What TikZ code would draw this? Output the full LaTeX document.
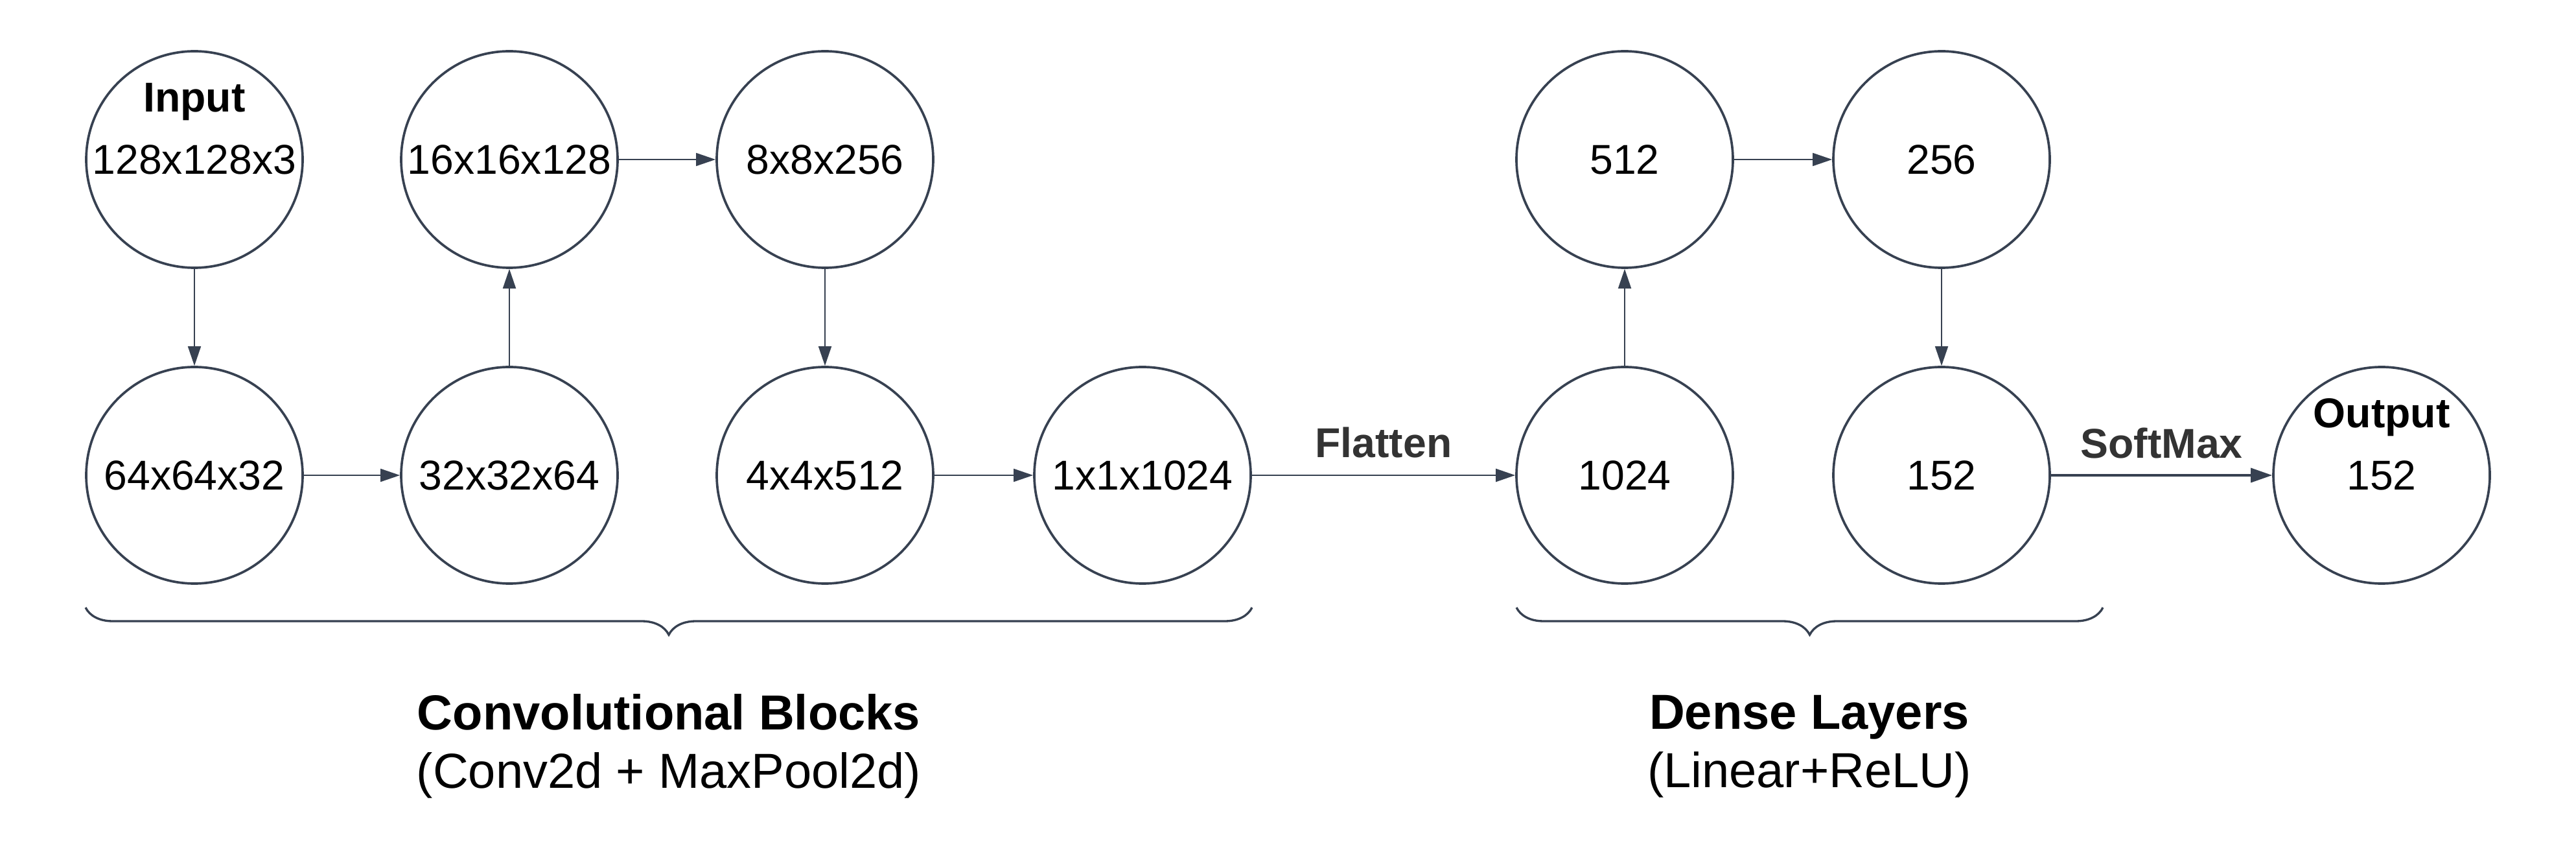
\documentclass[tikz,border=0pt]{standalone}
\usepackage{fontspec}
\setmainfont{Liberation Sans}
\usetikzlibrary{arrows.meta,decorations.pathreplacing,positioning}
\definecolor{linegray}{HTML}{374151}
\definecolor{labelgray}{HTML}{333333}
\tikzset{
    layer/.style={circle, draw=linegray, line width=1.05pt, minimum size=3.34cm, inner sep=0pt, font=\fontsize{18.3}{22}\selectfont},
    conn/.style={color=linegray, line width=0.5pt, -{Triangle[length=0.3cm,width=0.2cm]}},
    headlbl/.style={anchor=base, inner sep=0pt, font=\fontsize{18.3}{22}\selectfont\bfseries},
    edgelbl/.style={inner sep=0pt, text=labelgray, font=\fontsize{18.3}{22}\selectfont\bfseries},
    grpbrace/.style={draw=linegray, line width=0.95pt, decorate, decoration={brace, mirror, amplitude=0.42cm}},
    grptxt/.style={align=center, font=\fontsize{21.6}{25.5}\selectfont}
}

\begin{document}
\begin{tikzpicture}
    \useasboundingbox (0,0) rectangle (39.75,13.13);

    % convolutional part
    \node[layer] (in) at (3.00,10.67) {128x128x3};
    \node[headlbl] (inlbl) at ([yshift=0.73cm]in.center) {Input};
    \node[layer] (c1) at (3.00,5.80) {64x64x32};
    \node[layer] (c2) at (7.86,5.80) {32x32x64};
    \node[layer] (c3) at (7.86,10.67) {16x16x128};
    \node[layer] (c4) at (12.73,10.67) {8x8x256};
    \node[layer] (c5) at (12.73,5.80) {4x4x512};
    \node[layer] (c6) at (17.63,5.80) {1x1x1024};

    % dense part
    \node[layer] (d1) at (25.07,5.80) {1024};
    \node[layer] (d2) at (25.07,10.67) {512};
    \node[layer] (d3) at (29.96,10.67) {256};
    \node[layer] (d4) at (29.96,5.80) {152};
    \node[layer] (out) at (36.75,5.80) {152};
    \node[headlbl] (outlbl) at ([yshift=0.73cm]out.center) {Output};

    \draw[conn] (in) -- (c1);
    \draw[conn] (c1) -- (c2);
    \draw[conn] (c2) -- (c3);
    \draw[conn] (c3) -- (c4);
    \draw[conn] (c4) -- (c5);
    \draw[conn] (c5) -- (c6);
    \draw[conn, line width=0.65pt] (c6) -- node[edgelbl, above=0.26cm] (flat) {Flatten} (d1);
    \draw[conn] (d1) -- (d2);
    \draw[conn] (d2) -- (d3);
    \draw[conn] (d3) -- (d4);
    \draw[conn, line width=1pt, -{Triangle[length=0.33cm,width=0.22cm]}] (d4) -- node[edgelbl, above=0.24cm] (soft) {SoftMax} (out);

    % groups
    \coordinate (cbl) at (1.32,3.76);
    \coordinate (cbr) at (19.32,3.76);
    \coordinate (dbl) at (23.40,3.76);
    \coordinate (dbr) at (32.45,3.76);
    \draw[grpbrace] (cbl) -- (cbr);
    \draw[grpbrace] (dbl) -- (dbr);
    \node[grptxt] (convtxt) at (10.32,1.62) {\textbf{Convolutional Blocks}\\(Conv2d + MaxPool2d)};
    \node[grptxt] (densetxt) at (27.92,1.62) {\textbf{Dense Layers}\\(Linear+ReLU)};
\end{tikzpicture}
\end{document}
